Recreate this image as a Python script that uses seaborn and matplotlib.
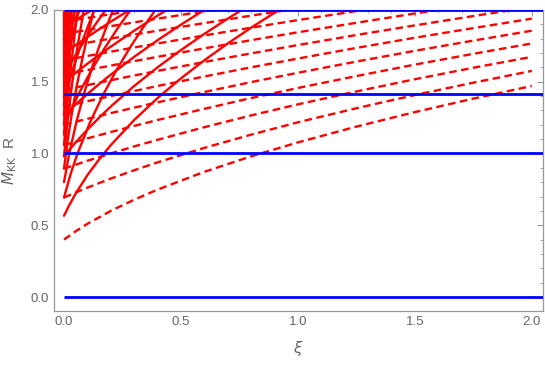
import numpy as np
import pandas as pd
import seaborn as sns
import matplotlib.pyplot as plt
from matplotlib.ticker import MultipleLocator, FormatStrFormatter

# slow branch (dashed), read on a common xi grid
xi_dashed = [0, 0.05, 0.1, 0.2, 0.3, 0.4, 0.6, 0.8, 1.0, 1.25, 1.5, 1.75, 2.0]
m_dashed = [
    [0.400, 0.458, 0.510, 0.600, 0.678, 0.748, 0.872, 0.980, 1.077, 1.187, 1.288, 1.382, 1.470],
    [0.693, 0.728, 0.762, 0.825, 0.883, 0.938, 1.039, 1.131, 1.217, 1.315, 1.407, 1.493, 1.575],
    [0.894, 0.922, 0.949, 1.000, 1.049, 1.095, 1.183, 1.265, 1.342, 1.432, 1.517, 1.597, 1.673],
    [1.058, 1.082, 1.105, 1.149, 1.192, 1.233, 1.311, 1.386, 1.456, 1.539, 1.619, 1.694, 1.766],
    [1.200, 1.221, 1.241, 1.281, 1.319, 1.356, 1.428, 1.497, 1.562, 1.640, 1.715, 1.786, 1.855],
    [1.327, 1.345, 1.364, 1.400, 1.435, 1.470, 1.536, 1.600, 1.661, 1.735, 1.806, 1.873, 1.939],
    [1.442, 1.459, 1.476, 1.510, 1.543, 1.575, 1.637, 1.697, 1.755, 1.825, 1.892, 1.957, 2.020],
    [1.549, 1.565, 1.581, 1.612, 1.643, 1.673, 1.732, 1.789, 1.844, 1.910, 1.975, 2.037],
    [1.649, 1.664, 1.679, 1.709, 1.738, 1.766, 1.822, 1.876, 1.929, 1.992, 2.054],
    [1.744, 1.758, 1.772, 1.800, 1.828, 1.855, 1.908, 1.960, 2.010],
    [1.833, 1.847, 1.860, 1.887, 1.913, 1.939, 1.990, 2.040],
    [1.918, 1.931, 1.944, 1.970, 1.995, 2.020],
]

# second branch (solid, moderate slope)
xi_solid = [0, 0.02, 0.05, 0.1, 0.15, 0.2, 0.3, 0.4, 0.5, 0.6, 0.7, 0.8, 0.9, 1.0]
m_solid = [
    [0.566, 0.632, 0.721, 0.849, 0.959, 1.058, 1.233, 1.386, 1.523, 1.649, 1.766, 1.876, 1.980, 2.078],
    [0.980, 1.020, 1.077, 1.166, 1.249, 1.327, 1.470, 1.600, 1.720, 1.833, 1.939, 2.040],
    [1.265, 1.296, 1.342, 1.414, 1.483, 1.549, 1.673, 1.789, 1.897, 2.000],
    [1.497, 1.523, 1.562, 1.625, 1.685, 1.744, 1.855, 1.960, 2.059],
    [1.697, 1.720, 1.755, 1.811, 1.865, 1.918, 2.020],
    [1.876, 1.897, 1.929, 1.980, 2.030],
]

# steep solid curves near xi = 0, each with its own points
steep_xi = [
    [0, 0.030, 0.0578, 0.1133, 0.1689, 0.2244, 0.280, 0.3356, 0.3911],
    [0, 0.0622, 0.1178, 0.1733, 0.2289, 0.2844],
    [0, 0.0667, 0.1222, 0.1778],
    [0, 0.0378, 0.0711],
    [0, 0.0225, 0.0538, 0.085, 0.1163, 0.1475, 0.1788, 0.21],
    [0, 0.0363, 0.0675, 0.0988, 0.13],
    [0, 0.025, 0.05],
    [0, 0.016, 0.032, 0.056, 0.08, 0.104, 0.128],
    [0, 0.032, 0.064],
    [0, 0.015, 0.0344, 0.0567, 0.0844],
    [0, 0.0156, 0.0311],
    [0, 0.0139, 0.0302, 0.0445, 0.0588],
    [0, 0.0065, 0.0131],
    [0, 0.0113, 0.0269, 0.0425],
    [0, 0.0025],
    [0, 0.0094, 0.0193, 0.0316],
    [0, 0.012, 0.024],
    [0, 0.0093, 0.0185],
    [0, 0.0072, 0.0144],
    [0, 0.0057, 0.0114],
    [0, 0.0045, 0.0090],
    [0, 0.0036, 0.0071],
    [0, 0.0028, 0.0056],
    [0, 0.0022, 0.0044],
    [0, 0.0017, 0.0035],
    [0, 0.0013, 0.0027],
    [0, 0.0010, 0.0020],
    [0, 0.0007, 0.0015],
    [0, 0.0005, 0.0010],
    [0, 0.0003, 0.0006],
    [0, 0.00014, 0.00028],
]
steep_m = [
    [0.693, 0.866, 1.000, 1.225, 1.414, 1.581, 1.732, 1.871, 2.000],
    [1.200, 1.414, 1.581, 1.732, 1.871, 2.000],
    [1.549, 1.732, 1.871, 2.000],
    [1.833, 1.924, 2.000],
    [0.800, 1.000, 1.225, 1.414, 1.581, 1.732, 1.871, 2.000],
    [1.386, 1.581, 1.732, 1.871, 2.000],
    [1.789, 1.897, 2.000],
    [0.894, 1.095, 1.265, 1.483, 1.673, 1.844, 2.000],
    [1.549, 1.789, 2.000],
    [0.980, 1.225, 1.483, 1.732, 2.000],
    [1.697, 1.855, 2.000],
    [1.058, 1.342, 1.612, 1.817, 2.000],
    [1.833, 1.918, 2.000],
    [1.131, 1.414, 1.732, 2.000],
    [1.960, 2.000],
    [1.200, 1.483, 1.732, 2.000],
    [1.265, 1.673, 2.000],
    [1.327, 1.697, 2.000],
    [1.386, 1.720, 2.000],
    [1.442, 1.744, 2.000],
    [1.497, 1.766, 2.000],
    [1.549, 1.789, 2.000],
    [1.600, 1.811, 2.000],
    [1.649, 1.833, 2.000],
    [1.697, 1.855, 2.000],
    [1.744, 1.876, 2.000],
    [1.789, 1.897, 2.000],
    [1.833, 1.918, 2.000],
    [1.876, 1.938, 2.000],
    [1.918, 1.960, 2.000],
    [1.960, 1.980, 2.000],
]

# horizontal reference levels
blue_levels = [0, 1, 1.414, 2]

# long table for seaborn
rows = []
for i, ms in enumerate(m_dashed):
    for x, y in zip(xi_dashed, ms):
        rows.append(dict(curve=f"d{i}", kind="dashed", xi=x, M=y))
for i, ms in enumerate(m_solid):
    for x, y in zip(xi_solid, ms):
        rows.append(dict(curve=f"s{i}", kind="solid", xi=x, M=y))
for i, (xs, ms) in enumerate(zip(steep_xi, steep_m)):
    for x, y in zip(xs, ms):
        rows.append(dict(curve=f"t{i}", kind="solid", xi=x, M=y))
df = pd.DataFrame(rows)

sns.set_style("white")
plt.rcParams["font.family"] = ["Liberation Sans", "DejaVu Sans"]
plt.rcParams["mathtext.fontset"] = "dejavusans"

gray = "#666666"
fig = plt.figure(figsize=(5.45, 3.66), dpi=100)
ax = fig.add_axes([0.099, 0.150, 0.897, 0.823])

sns.lineplot(data=df, x="xi", y="M", units="curve", estimator=None,
             style="kind", dashes={"dashed": (3.2, 1.9), "solid": ""},
             color="red", linewidth=1.7, legend=False, ax=ax)

ax.hlines(blue_levels, 0, 2.06, colors="#0000ff", linewidth=2.0, zorder=3)

ax.set_xlim(-0.043, 2.047)
ax.set_ylim(-0.098, 2.0)

ax.xaxis.set_major_locator(MultipleLocator(0.5))
ax.xaxis.set_minor_locator(MultipleLocator(0.1))
ax.yaxis.set_major_locator(MultipleLocator(0.5))
ax.yaxis.set_minor_locator(MultipleLocator(0.1))
ax.xaxis.set_major_formatter(FormatStrFormatter("%.1f"))
ax.yaxis.set_major_formatter(FormatStrFormatter("%.1f"))
ax.tick_params(which="both", direction="in", top=True, right=True,
               color="#999999", labelcolor=gray, labelsize=9.5)
ax.tick_params(which="major", length=4.5, width=0.8)
ax.tick_params(which="minor", length=2.5, width=0.6)
for s in ax.spines.values():
    s.set_color("#999999")
    s.set_linewidth(0.9)

ax.set_xlabel(r"$\xi$", color=gray, fontsize=11, labelpad=8)
ax.set_ylabel(r"$M_{\mathrm{KK}}$  R", color=gray, fontsize=11)
ax.yaxis.set_label_coords(-0.072, 0.5)

plt.savefig("out.png", dpi=100)
